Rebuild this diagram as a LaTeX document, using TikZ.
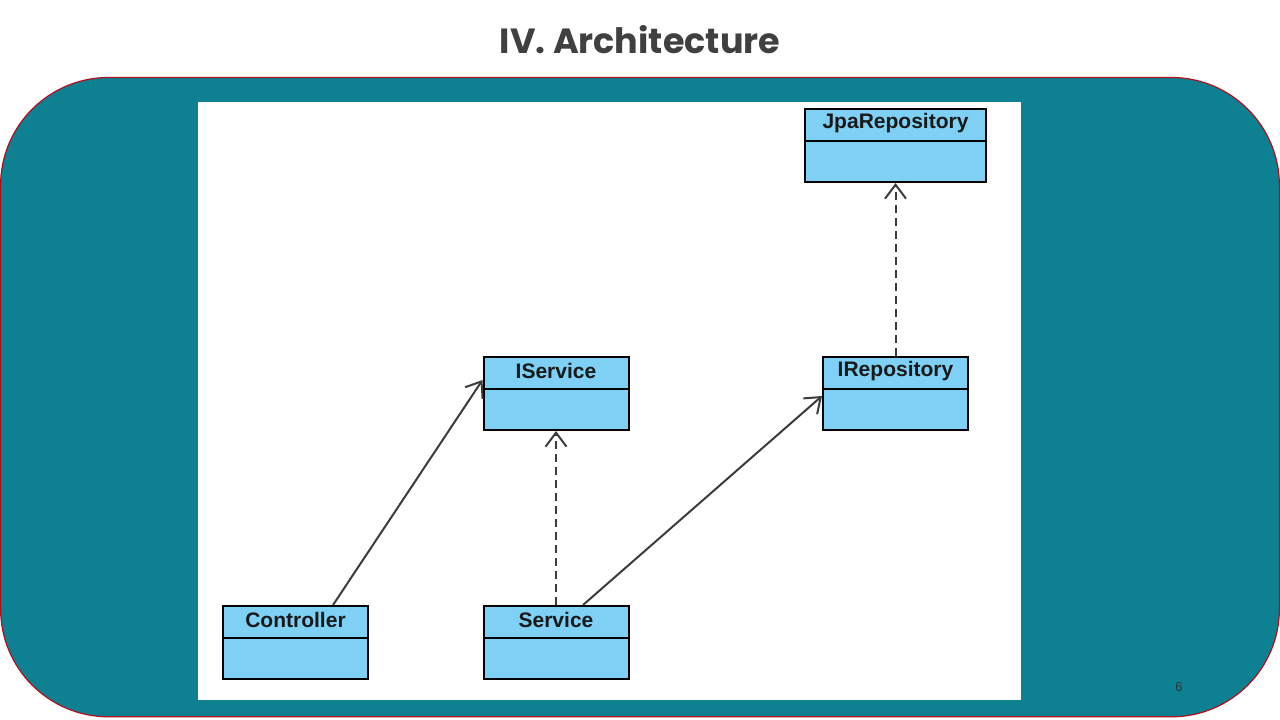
\documentclass[tikz,border=0pt]{standalone}
\usepackage{fontspec}
\setmainfont{Liberation Sans}
\newfontfamily\titlefont{Poppins}
\usetikzlibrary{arrows.meta}
\definecolor{slideteal}{HTML}{0D8192}
\definecolor{slideborder}{HTML}{B0101E}
\definecolor{umlfill}{HTML}{7ED0F5}
\definecolor{linegray}{HTML}{3C3C3C}
\definecolor{titlegray}{HTML}{404040}
\tikzset{
  umlbox/.style={draw=black, line width=2pt, fill=umlfill, minimum width=145pt, minimum height=73pt, inner sep=0pt,
    path picture={\draw[line width=2pt] ([yshift=-31.5pt]path picture bounding box.north west) -- ([yshift=-31.5pt]path picture bounding box.north east);}},
  umltitle/.style={font=\bfseries\fontsize{21}{22}\selectfont, text=black!90, inner sep=0pt},
  assoc/.style={draw=linegray, line width=2pt, -{Straight Barb[length=14pt,width=21pt,line width=2pt]}},
  realize/.style={assoc, dash pattern=on 8pt off 5pt}
}
\begin{document}
\begin{tikzpicture}[x=1pt,y=-1pt]
\useasboundingbox (0,0) rectangle (1280,720);
\fill[white] (0,0) rectangle (1280,720);
% slide panel
\draw[slideborder, line width=1.2pt, fill=slideteal, rounded corners=108pt] (0.6,77.5) rectangle (1279.4,716.8);
% title
\node[font=\titlefont\bfseries\fontsize{35}{40}\selectfont, text=titlegray] (title) at (640,40) {IV. Architecture};
% diagram canvas
\fill[white] (198,102) rectangle (1021,700);
% boxes
\node[umlbox, minimum width=181pt] (jpa) at (895.5,145.5) {};
\node[umlbox] (iservice) at (556,393.5) {};
\node[umlbox] (irepo) at (895.5,393.5) {};
\node[umlbox] (controller) at (295.5,642.5) {};
\node[umlbox] (service) at (556,642.5) {};
% box titles
\node[umltitle] (tjpa) at ([yshift=-15pt]jpa.north) {JpaRepository};
\node[umltitle] (tiservice) at ([yshift=-15pt]iservice.north) {IService};
\node[umltitle] (tirepo) at ([yshift=-15pt]irepo.north) {IRepository};
\node[umltitle] (tcontroller) at ([yshift=-15pt]controller.north) {Controller};
\node[umltitle] (tservice) at ([yshift=-15pt]service.north) {Service};
% connectors
\draw[assoc] ([xshift=37.5pt]controller.north) -- ([yshift=13.5pt]iservice.west);
\draw[assoc] ([xshift=27pt]service.north) -- ([yshift=-2.5pt]irepo.west);
\draw[realize] (service.north) -- (iservice.south);
\draw[realize] (irepo.north) -- (jpa.south);
% page number
\node[font=\fontsize{13}{15}\selectfont, text=black!80] (pagenum) at (1179,687) {6};
\end{tikzpicture}
\end{document}
